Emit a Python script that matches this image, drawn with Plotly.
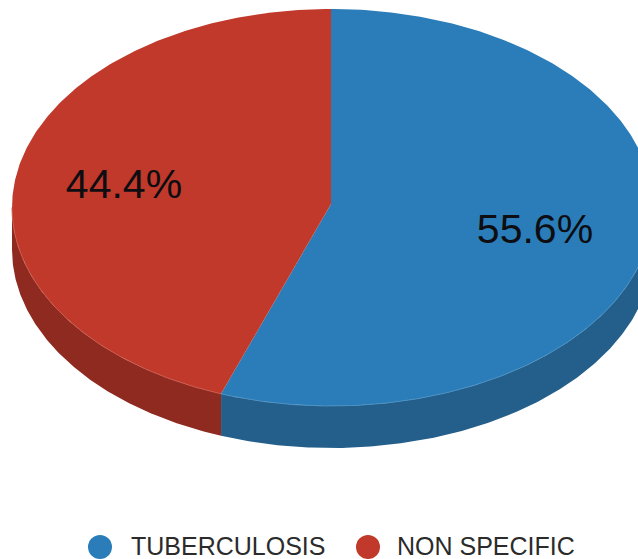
import numpy as np
import plotly.graph_objects as go

# Pie contents
categories = ["TUBERCULOSIS", "NON SPECIFIC"]
values = [55.6, 44.4]
top_colors = ["#2a7db8", "#c0392b"]
side_colors = ["#235f8a", "#8e2a20"]
rim_colors = ["#4b90c2", "#cc5a4c"]
label_font = "Liberation Sans"

# Tilted-disc geometry, in page pixels
CX, CY = 331, 207.5
APEX_Y = 204
RX_LEFT, RX_RIGHT = 319, 322
RY = 198.5
DEPTH = 42


def rim(theta):
    """Points on the top-face ellipse; theta runs clockwise from 12 o'clock."""
    s = np.sin(theta)
    rx = np.where(s >= 0, RX_RIGHT, RX_LEFT)
    return CX + rx * s, CY - RY * np.cos(theta)


fig = go.Figure()
shares = np.array(values) / sum(values) * 2 * np.pi
edges = np.concatenate([[0], np.cumsum(shares)])

# Side walls go first so the top faces sit over them
for i, color in enumerate(side_colors):
    a0, a1 = edges[i], edges[i + 1]
    lo, hi = max(a0, np.pi / 2), min(a1, 3 * np.pi / 2)
    t = np.linspace(lo, hi, 200)
    x, y = rim(t)
    fig.add_trace(go.Scatter(
        x=np.concatenate([x, x[::-1]]),
        y=np.concatenate([y, y[::-1] + DEPTH]),
        mode="lines", fill="toself", fillcolor=color,
        line=dict(width=0), hoverinfo="skip", showlegend=False,
    ))

# Top faces
for i, color in enumerate(top_colors):
    t = np.linspace(edges[i], edges[i + 1], 300)
    x, y = rim(t)
    fig.add_trace(go.Scatter(
        x=np.concatenate([[CX], x, [CX]]),
        y=np.concatenate([[APEX_Y], y, [APEX_Y]]),
        mode="lines", fill="toself", fillcolor=color,
        line=dict(width=0), hoverinfo="skip", showlegend=False,
    ))

# Faint highlight where each top face meets its wall
for i, color in enumerate(rim_colors):
    lo, hi = max(edges[i], np.pi / 2), min(edges[i + 1], 3 * np.pi / 2)
    x, y = rim(np.linspace(lo, hi, 200))
    fig.add_trace(go.Scatter(
        x=x, y=y, mode="lines", line=dict(width=1, color=color),
        hoverinfo="skip", showlegend=False,
    ))

# Percentage labels
label_x = [535, 124]
label_y = [233, 188]
fig.add_trace(go.Scatter(
    x=label_x, y=label_y, mode="text",
    text=[f"{v:.1f}%" for v in values],
    textposition="middle center",
    textfont=dict(family=label_font, size=41, color="#0d0d12"),
    hoverinfo="skip", showlegend=False,
))

# Legend row
key_x = [100, 368]
key_text_x = [131, 397]
key_y = [547, 547]
fig.add_trace(go.Scatter(
    x=key_x, y=key_y, mode="markers",
    marker=dict(size=24, color=top_colors, line=dict(width=0)),
    hoverinfo="skip", showlegend=False,
))
fig.add_trace(go.Scatter(
    x=key_text_x, y=[v + 2 for v in key_y], mode="text", text=categories,
    textposition="middle right",
    textfont=dict(family=label_font, size=25, color="#2b2b2b"),
    hoverinfo="skip", showlegend=False,
))

fig.update_layout(
    width=638, height=559, margin=dict(l=0, r=0, t=0, b=0),
    paper_bgcolor="white", plot_bgcolor="white", showlegend=False,
    xaxis=dict(range=[0, 638], visible=False),
    yaxis=dict(range=[559, 0], visible=False),
)
fig.write_html("out.html")
